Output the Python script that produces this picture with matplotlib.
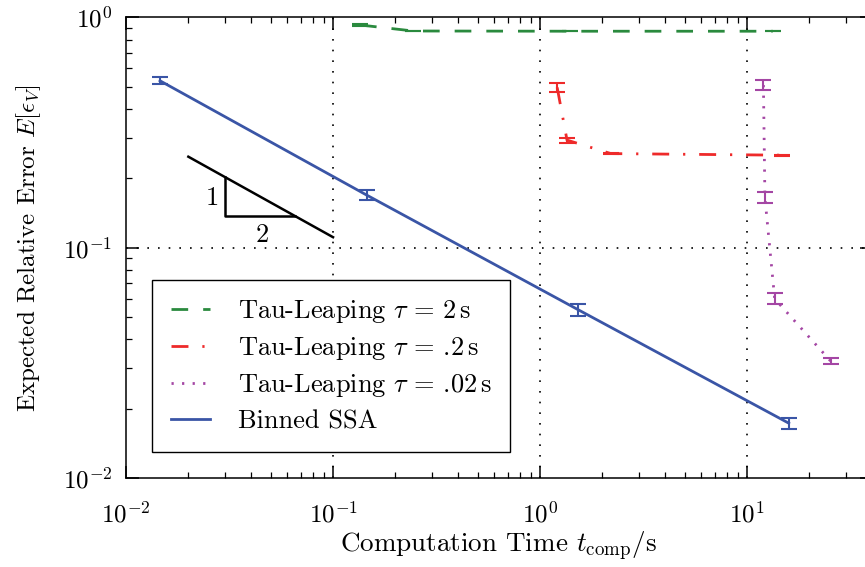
import matplotlib
matplotlib.use('Agg')
import matplotlib.pyplot as plt
from matplotlib.lines import Line2D
import numpy as np

plt.rcParams['font.family'] = 'cmr10'
plt.rcParams['mathtext.fontset'] = 'cm'
plt.rcParams['axes.formatter.use_mathtext'] = True
plt.rcParams['font.size'] = 18

# Binned SSA
ssa_time = [0.0146, 0.1456, 1.52, 15.9]
ssa_err = [0.530, 0.169, 0.0539, 0.0173]
ssa_yerr = [0.019, 0.0085, 0.0032, 0.00095]

# Tau-Leaping tau = 2 s
tl2_time = [0.135, 0.244, 1.40, 13.3]
tl2_err = [0.926, 0.872, 0.870, 0.870]
tl2_yerr = [0.006, 0.003, 0.002, 0.001]

# Tau-Leaping tau = .2 s
tl02_time = [1.21, 1.35, 2.20, 14.8]
tl02_err = [0.496, 0.293, 0.256, 0.252]
tl02_yerr = [0.023, 0.007, 0.002, 0.001]

# Tau-Leaping tau = .02 s
tl002_time = [12.0, 12.2, 13.6, 25.4]
tl002_err = [0.508, 0.165, 0.060, 0.0321]
tl002_yerr = [0.025, 0.009, 0.0033, 0.001]

# slope triangle (order 1/2)
slope_x = [0.02, 0.1]
tri_corner = (0.03, 0.137)

labels = [r'Tau-Leaping $\tau\,=\,2\,\mathrm{s}$',
          r'Tau-Leaping $\tau\,=\,$.2$\,\mathrm{s}$',
          r'Tau-Leaping $\tau\,=\,$.02$\,\mathrm{s}$',
          'Binned SSA']

fig = plt.figure(figsize=(8.65, 5.67), dpi=100)
ax = fig.add_axes([0.1457, 0.157, 1.0077 - 0.1457, 0.9695 - 0.157])

green = '#2a8a3e'
red = '#ee2a2a'
purple = '#a446a4'
blue = '#3a55a6'
styles = [dict(color=green, dashes=(6, 5.4)),
          dict(color=red, dashes=(6.1, 5.0, 0.8, 5.0)),
          dict(color=purple, dashes=(0.8, 3.0)),
          dict(color=blue, ls='-')]
kw = dict(lw=2.0, capsize=6, elinewidth=1.5, capthick=1.5)

series = [(tl2_time, tl2_err, tl2_yerr), (tl02_time, tl02_err, tl02_yerr),
          (tl002_time, tl002_err, tl002_yerr), (ssa_time, ssa_err, ssa_yerr)]
for (t, e, de), st in zip(series, styles):
    ax.errorbar(t, e, yerr=de, **st, **kw)

# reference slope -1/2
sx = np.array(slope_x)
sy = 0.111 * (sx / 0.1) ** -0.5
ax.plot(sx, sy, color='black', lw=1.8)
cx, cy = tri_corner
top = 0.111 * (cx / 0.1) ** -0.5
right = 0.1 * (cy / 0.111) ** -2
ax.plot([cx, cx, right], [top, cy, cy], color='black', lw=1.8)
ax.text(0.026, 0.164, '1', ha='center', va='center', fontsize=19)
ax.text(0.0453, 0.113, '2', ha='center', va='center', fontsize=19)

ax.set_xscale('log')
ax.set_yscale('log')
ax.set_xlim(0.01, 40)
ax.set_ylim(0.01, 1)

for v in [0.1, 1, 10]:
    ax.axvline(v, color='black', lw=1.2, dashes=(1, 5.4), zorder=0)
ax.axhline(0.1, color='black', lw=1.2, dashes=(1, 5.4), zorder=0)

ax.tick_params(which='both', direction='in', top=True, right=True, labelsize=18)
ax.tick_params(which='major', length=9, width=1.1)
ax.tick_params(which='minor', length=4.5, width=0.9)
ax.tick_params(axis='x', which='major', pad=17)
ax.tick_params(axis='y', which='major', pad=10)
for s in ax.spines.values():
    s.set_linewidth(1.1)

ax.set_xlabel(r'Computation Time $t_{\mathrm{comp}}/\mathrm{s}$', fontsize=19.5, labelpad=2)
ax.set_ylabel(r'Expected Relative Error $E[\epsilon_V]$', fontsize=18, labelpad=14)

handles = [Line2D([], [], lw=2.0, **st) for st in styles]
leg = ax.legend(handles, labels, loc='lower left', bbox_to_anchor=(0.035, 0.057),
                borderaxespad=0, fancybox=False, edgecolor='black', framealpha=1,
                fontsize=19, handlelength=1.5, borderpad=0.7, labelspacing=0.38,
                handletextpad=1.05)
leg.get_frame().set_linewidth(1.0)

fig.savefig('out.png', dpi=100)
